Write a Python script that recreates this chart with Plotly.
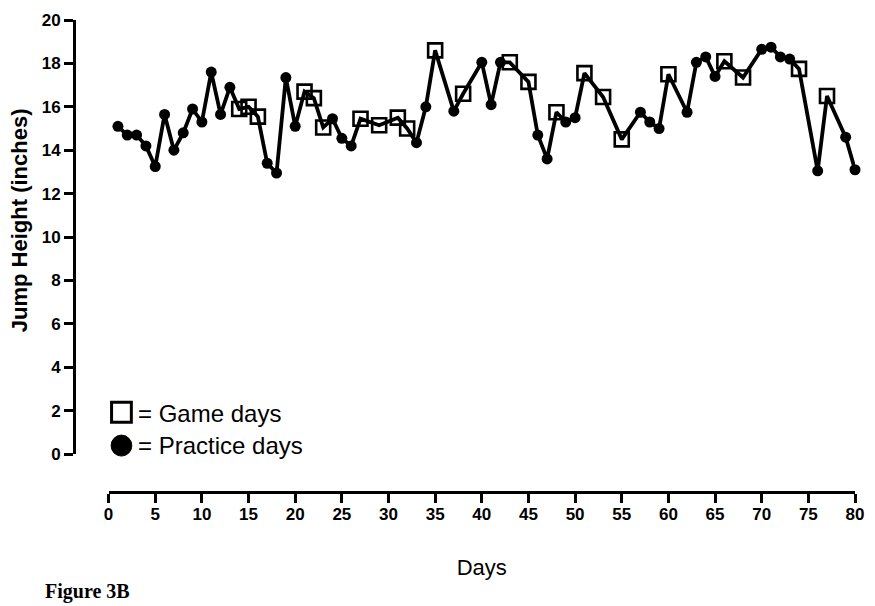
import plotly.graph_objects as go

# Daily jump height over the season, with session type for each recorded day
days = [1, 2, 3, 4, 5, 6, 7, 8, 9, 10, 11, 12, 13, 14, 15, 16, 17, 18, 19, 20,
        21, 22, 23, 24, 25, 26, 27, 29, 31, 32, 33, 34, 35, 37, 38, 40, 41, 42,
        43, 45, 46, 47, 48, 49, 50, 51, 53, 55, 57, 58, 59, 60, 62, 63, 64, 65,
        66, 68, 70, 71, 72, 73, 74, 76, 77, 79, 80]
heights = [15.1, 14.7, 14.7, 14.2, 13.25, 15.65, 14.0, 14.8, 15.9, 15.3,
           17.6, 15.65, 16.9, 15.9, 16.0, 15.55, 13.4, 12.95, 17.35, 15.1,
           16.7, 16.4, 15.05, 15.45, 14.55, 14.2, 15.45, 15.15, 15.5, 15.0,
           14.35, 16.0, 18.6, 15.8, 16.6, 18.05, 16.1, 18.05, 18.05, 17.15,
           14.7, 13.6, 15.75, 15.3, 15.5, 17.55, 16.45, 14.5, 15.75, 15.3,
           15.0, 17.5, 15.75, 18.05, 18.3, 17.4, 18.1, 17.35, 18.65, 18.75,
           18.3, 18.2, 17.75, 13.05, 16.5, 14.6, 13.1]
session = ["P", "P", "P", "P", "P", "P", "P", "P", "P", "P",
           "P", "P", "P", "G", "G", "G", "P", "P", "P", "P",
           "G", "G", "G", "P", "P", "P", "G", "G", "G", "G",
           "P", "P", "G", "P", "G", "P", "P", "P", "G", "G",
           "P", "P", "G", "P", "P", "G", "G", "G", "P", "P",
           "P", "G", "P", "P", "P", "P", "G", "G", "P", "P",
           "P", "P", "G", "P", "G", "P", "P"]

x_ticks = list(range(0, 81, 5))
y_ticks = list(range(0, 21, 2))

game_x = [d for d, s in zip(days, session) if s == "G"]
game_y = [h for h, s in zip(heights, session) if s == "G"]
prac_x = [d for d, s in zip(days, session) if s == "P"]
prac_y = [h for h, s in zip(heights, session) if s == "P"]

W, H = 875, 606
L, R, T, B = 74, 11, 19, 114
PW, PH = W - L - R, H - T - B


def px_x(p):
    return (p - L) / PW


def px_y(p):
    return (H - B - p) / PH


SANS = "Liberation Sans, Arial, Helvetica, sans-serif"

fig = go.Figure()

fig.add_trace(go.Scatter(
    x=days, y=heights, mode="lines",
    line=dict(color="black", width=3.8),
    cliponaxis=False, showlegend=False, hoverinfo="skip"))

fig.add_trace(go.Scatter(
    x=game_x, y=game_y, mode="markers",
    marker=dict(symbol="square-open", size=14, color="black",
                line=dict(width=2.6, color="black")),
    cliponaxis=False, showlegend=False, name="Game days"))

fig.add_trace(go.Scatter(
    x=prac_x, y=prac_y, mode="markers",
    marker=dict(symbol="circle", size=11, color="black"),
    cliponaxis=False, showlegend=False, name="Practice days"))

fig.update_layout(
    width=W, height=H,
    margin=dict(l=L, r=R, t=T, b=B),
    paper_bgcolor="white", plot_bgcolor="white",
    font=dict(family=SANS, color="black"),
    xaxis=dict(
        domain=[px_x(109), 1.0], anchor="free", position=0.0,
        range=[0, 80], tickvals=x_ticks,
        showline=True, linecolor="black", linewidth=3,
        ticks="outside", ticklen=9, tickwidth=3, tickcolor="black",
        ticklabelstandoff=-3,
        tickfont=dict(family=SANS, size=17, weight="bold", color="black"),
        showgrid=False, zeroline=False,
        title=dict(text="Days", standoff=36,
                   font=dict(family=SANS, size=22, color="black")),
    ),
    yaxis=dict(
        domain=[px_y(454), 1.0], anchor="free", position=0.0,
        range=[0, 20], tickvals=y_ticks,
        showline=True, linecolor="black", linewidth=3,
        ticks="outside", ticklen=9, tickwidth=3, tickcolor="black",
        tickfont=dict(family=SANS, size=17, weight="bold", color="black"),
        showgrid=False, zeroline=False,
    ),
)

# Y axis title
fig.add_annotation(
    text="Jump Height (inches)", textangle=-90,
    xref="paper", yref="paper", x=px_x(19), y=px_y(220),
    xanchor="center", yanchor="middle", showarrow=False,
    font=dict(family=SANS, size=22, weight="bold", color="black"))

# Key for the two session types
fig.add_shape(type="rect", xref="paper", yref="paper",
              x0=px_x(112), x1=px_x(132), y0=px_y(422), y1=px_y(402),
              line=dict(color="black", width=3), fillcolor="white")
fig.add_shape(type="circle", xref="paper", yref="paper",
              x0=px_x(111.5), x1=px_x(132.5), y0=px_y(456), y1=px_y(435),
              line=dict(color="black", width=1), fillcolor="black")
fig.add_annotation(
    text="= Game days", xref="paper", yref="paper",
    x=px_x(137), y=px_y(413), xanchor="left", yanchor="middle",
    showarrow=False, font=dict(family=SANS, size=24, color="black"))
fig.add_annotation(
    text="= Practice days", xref="paper", yref="paper",
    x=px_x(137), y=px_y(445), xanchor="left", yanchor="middle",
    showarrow=False, font=dict(family=SANS, size=24, color="black"))

# Figure caption
fig.add_annotation(
    text="<b>Figure 3B</b>", xref="paper", yref="paper",
    x=px_x(43), y=px_y(605), xanchor="left", yanchor="bottom",
    showarrow=False,
    font=dict(family="Liberation Serif, Times New Roman, serif", size=20,
              color="black"))

fig.write_html("out.html")
